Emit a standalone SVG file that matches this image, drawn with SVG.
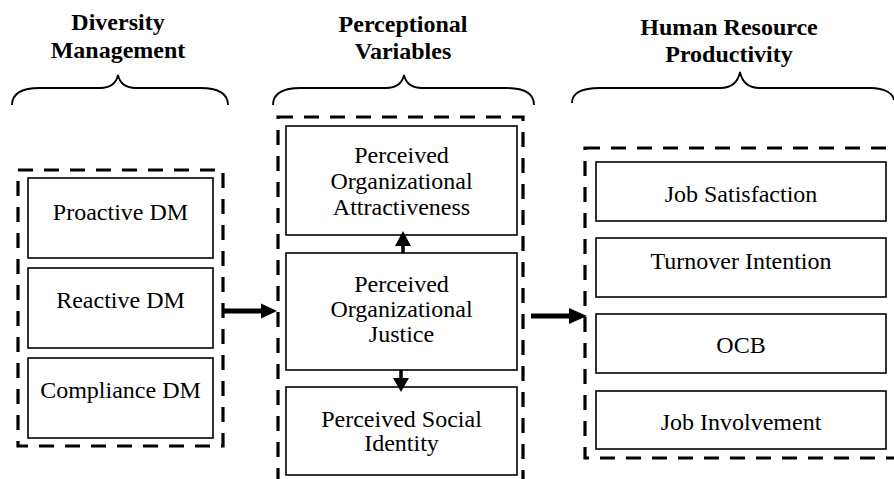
<svg xmlns="http://www.w3.org/2000/svg" width="894" height="479" viewBox="0 0 894 479">
<style>
.bg{fill:#fff}
.group{fill:none;stroke:#000;stroke-width:3.2;stroke-dasharray:15 11}
.box{fill:#fff;stroke:#000;stroke-width:1.6}
.brace{fill:none;stroke:#000;stroke-width:1.8}
.t{font-family:"Liberation Serif","Times New Roman",serif;font-size:24px;fill:#000;text-anchor:middle}
.h{font-family:"Liberation Serif","Times New Roman",serif;font-size:24px;font-weight:bold;fill:#000;text-anchor:middle}
.shaft{stroke:#000;fill:none}
.head{fill:#000}
</style>
<rect class="bg" x="0" y="0" width="894" height="479"/>

<g id="headings">
  <text class="h" x="118" y="30">Diversity</text>
  <text class="h" x="118" y="58">Management</text>
  <text class="h" x="403" y="32">Perceptional</text>
  <text class="h" x="403" y="59">Variables</text>
  <text class="h" x="729" y="35">Human Resource</text>
  <text class="h" x="729" y="62">Productivity</text>
</g>

<g id="braces">
  <path class="brace" d="M12,105 C12,95 20,88 40,88 L100,88 C110,88 116,84 118,75 C120,84 126,88 136,88 L200,88 C220,88 228,95 228,105"/>
  <path class="brace" d="M273,105 C273,95 281,88 301,88 L386,88 C396,88 402,84 404,75 C406,84 412,88 422,88 L506,88 C526,88 534,95 534,105"/>
  <path class="brace" d="M572,103 C572,94 580,88 600,88 L720,88 C732,88 738,82 740,72 C742,82 748,88 760,88 L870,88 C886,88 893,94 894,100"/>
</g>

<g id="diversity-management">
  <rect class="group" x="18" y="170" width="205" height="276"/>
  <g id="proactive-dm">
    <rect class="box" x="28" y="178" width="185" height="80"/>
    <text class="t" x="120.5" y="220">Proactive DM</text>
  </g>
  <g id="reactive-dm">
    <rect class="box" x="28" y="268" width="185" height="80"/>
    <text class="t" x="120.5" y="308">Reactive DM</text>
  </g>
  <g id="compliance-dm">
    <rect class="box" x="28" y="358" width="185" height="80"/>
    <text class="t" x="120.5" y="398">Compliance DM</text>
  </g>
</g>

<g id="perceptional-variables">
  <rect class="group" x="278" y="117" width="245" height="380"/>
  <g id="attractiveness">
    <rect class="box" x="286" y="126" width="231" height="109"/>
    <text class="t" x="401.5" y="163">Perceived</text>
    <text class="t" x="401.5" y="189">Organizational</text>
    <text class="t" x="401.5" y="215">Attractiveness</text>
  </g>
  <g id="justice">
    <rect class="box" x="286" y="253" width="231" height="117"/>
    <text class="t" x="401.5" y="292">Perceived</text>
    <text class="t" x="401.5" y="317">Organizational</text>
    <text class="t" x="401.5" y="342">Justice</text>
  </g>
  <g id="social-identity">
    <rect class="box" x="286" y="387" width="231" height="88"/>
    <text class="t" x="401.5" y="427">Perceived Social</text>
    <text class="t" x="401.5" y="451">Identity</text>
  </g>
</g>

<g id="hr-productivity">
  <rect class="group" x="585" y="148" width="315" height="310"/>
  <g id="job-satisfaction">
    <rect class="box" x="596" y="162" width="290" height="59"/>
    <text class="t" x="741" y="202">Job Satisfaction</text>
  </g>
  <g id="turnover-intention">
    <rect class="box" x="596" y="238" width="290" height="59"/>
    <text class="t" x="741" y="269">Turnover Intention</text>
  </g>
  <g id="ocb">
    <rect class="box" x="596" y="314" width="290" height="59"/>
    <text class="t" x="741" y="353">OCB</text>
  </g>
  <g id="job-involvement">
    <rect class="box" x="596" y="391" width="290" height="58"/>
    <text class="t" x="741" y="430">Job Involvement</text>
  </g>
</g>

<g id="connectors">
  <line class="shaft" x1="222" y1="311" x2="263" y2="311" stroke-width="5"/>
  <polygon class="head" points="261,303.5 277,311 261,318.5"/>
  <line class="shaft" x1="531" y1="316" x2="571" y2="316" stroke-width="5"/>
  <polygon class="head" points="569,308 587,316 569,324"/>
  <line class="shaft" x1="403" y1="253" x2="403" y2="244" stroke-width="3.5"/>
  <polygon class="head" points="395,246 403,231 411,246"/>
  <line class="shaft" x1="401" y1="370" x2="401" y2="380" stroke-width="3.5"/>
  <polygon class="head" points="393,378 401,392 409,378"/>
</g>
</svg>
